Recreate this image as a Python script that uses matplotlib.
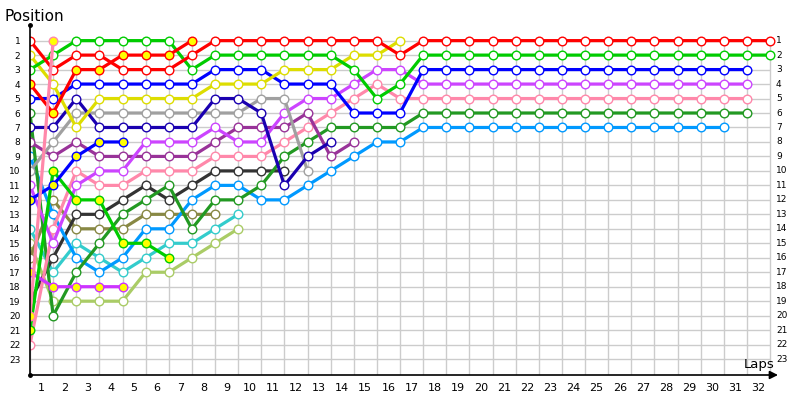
import matplotlib
matplotlib.use("Agg")
import matplotlib.pyplot as plt

# ---- data: position at each lap, starting at lap 0 (grid) ----
laps_total = 32
positions = list(range(1, 24))
lap_labels = [str(i) for i in range(1, 33)]

red_a = [1, 3, 2, 2, 3, 3, 3, 2, 1, 1, 1, 1, 1, 1, 1, 1, 2, 1, 1, 1, 1, 1, 1, 1, 1, 1, 1, 1, 1, 1, 1, 1, 1]
red_b = [4, 6, 3, 3, 2, 2, 2, 1]
green_a = [3, 2, 1, 1, 1, 1, 1, 3, 2, 2, 2, 2, 2, 2, 3, 5, 4, 2, 2, 2, 2, 2, 2, 2, 2, 2, 2, 2, 2, 2, 2, 2, 2]
yellow = [2, 4, 7, 5, 5, 5, 5, 5, 4, 4, 4, 3, 3, 3, 2, 2, 1]
blue_a = [5, 5, 4, 4, 4, 4, 4, 4, 3, 3, 3, 4, 4, 4, 6, 6, 6, 3, 3, 3, 3, 3, 3, 3, 3, 3, 3, 3, 3, 3, 3, 3]
dark_blue = [7, 7, 5, 7, 7, 7, 7, 7, 5, 5, 6, 11, 9, 8]
gray = [10, 8, 6, 6, 6, 6, 6, 6, 6, 6, 5, 5, 10]
purple = [11, 15, 11, 10, 10, 8, 8, 8, 7, 8, 8, 6, 5, 5, 4, 3, 3, 4, 4, 4, 4, 4, 4, 4, 4, 4, 4, 4, 4, 4, 4, 4]
dark_purple = [8, 9, 8, 9, 9, 9, 9, 9, 8, 7, 7, 7, 6, 9, 8]
pink = [22, 14, 10, 11, 11, 10, 10, 10, 9, 9, 9, 8, 7, 6, 5, 4, 5, 5, 5, 5, 5, 5, 5, 5, 5, 5, 5, 5, 5, 5, 5, 5]
dark_gray = [19, 16, 13, 13, 12, 11, 12, 11, 10, 10, 10, 10]
light_blue = [9, 13, 16, 17, 16, 14, 14, 12, 11, 11, 12, 12, 11, 10, 9, 8, 8, 7, 7, 7, 7, 7, 7, 7, 7, 7, 7, 7, 7, 7, 7]
dark_green = [6, 20, 17, 15, 13, 12, 11, 14, 12, 12, 11, 9, 8, 7, 7, 7, 7, 6, 6, 6, 6, 6, 6, 6, 6, 6, 6, 6, 6, 6, 6, 6]
olive = [16, 12, 14, 14, 14, 13, 13, 13, 13]
teal = [14, 17, 15, 16, 17, 16, 15, 15, 14, 13]
light_green = [15, 19, 19, 19, 19, 17, 17, 16, 15, 14]
green_b = [21, 10, 12, 12, 15, 15, 16]
blue_b = [12, 11, 9, 8, 8]
purple_b = [17, 18, 18, 18, 18]
pink_b = [20, 1]

# (values, colour, marker fill)
series = [
    (light_green, "#aacc66", "white"),
    (teal, "#33cccc", "white"),
    (olive, "#888844", "white"),
    (dark_gray, "#333333", "white"),
    (light_blue, "#0099ff", "white"),
    (dark_green, "#229922", "white"),
    (pink, "#ff88aa", "white"),
    (dark_purple, "#993399", "white"),
    (purple, "#cc44ff", "white"),
    (gray, "#a0a0a0", "white"),
    (dark_blue, "#1a00b0", "white"),
    (blue_a, "#0000ff", "white"),
    (yellow, "#dddd00", "white"),
    (green_a, "#00cc00", "white"),
    (red_a, "#ff0000", "white"),
    (purple_b, "#cc33ff", "#ffff00"),
    (green_b, "#00cc00", "#ffff00"),
    (blue_b, "#0000ff", "#ffff00"),
    (red_b, "#ff0000", "#ffff00"),
    (pink_b, "#ff88aa", "#ffff00"),
]

fig = plt.figure(figsize=(8, 4), dpi=100)
ax = fig.add_axes([30 / 800, 25 / 400, 748 / 800, 350 / 400])
x_max = 748 / 23.125
y_bottom, y_top = 24.1, -0.08
ax.set_xlim(0, x_max)
ax.set_ylim(y_bottom, y_top)
for s in ax.spines.values():
    s.set_visible(False)

# grid
grid_laps = list(range(0, laps_total + 1))
ax.vlines(grid_laps, 1, y_bottom, colors="#cccccc", lw=1, zorder=1)
ax.hlines(positions, 0, laps_total, colors="#cccccc", lw=1, zorder=1)

# series
for vals, col, fill in series:
    xs = list(range(len(vals)))
    ax.plot(xs, vals, color=col, lw=2.3, zorder=3, solid_capstyle="round",
            marker="o", ms=6.2, mfc=fill, mec=col, mew=1.0)

# axes lines
ax.plot([0, 0], [y_bottom, y_top], color="black", lw=1.2, clip_on=False, zorder=5)
ax.plot([0, 0], [y_top, y_bottom], "o", color="black", ms=2.5, clip_on=False, zorder=6)
ax.annotate("", xy=(x_max, y_bottom), xytext=(0, y_bottom),
            arrowprops=dict(arrowstyle="-|>", color="black", lw=1.2,
                            mutation_scale=12, shrinkA=0, shrinkB=0),
            annotation_clip=False, zorder=5)

# ticks
ax.set_xticks([i + 0.5 for i in range(laps_total)])
ax.set_xticklabels(lap_labels, fontsize=8)
ax.set_yticks(positions)
ax.set_yticklabels([str(p) for p in positions], fontsize=6.5)
ax.tick_params(axis="x", length=0, pad=6)
ax.tick_params(axis="y", length=0, pad=7)
for p in positions:
    ax.text(32.26, p, str(p), fontsize=6.5, ha="left", va="center", clip_on=False)

fig.text(5 / 800, 1 - 21 / 400, "Position", fontsize=11, va="baseline")
fig.text(744 / 800, 1 - 368 / 400, "Laps", fontsize=9.5, va="baseline")

fig.savefig("out.png", dpi=100)
